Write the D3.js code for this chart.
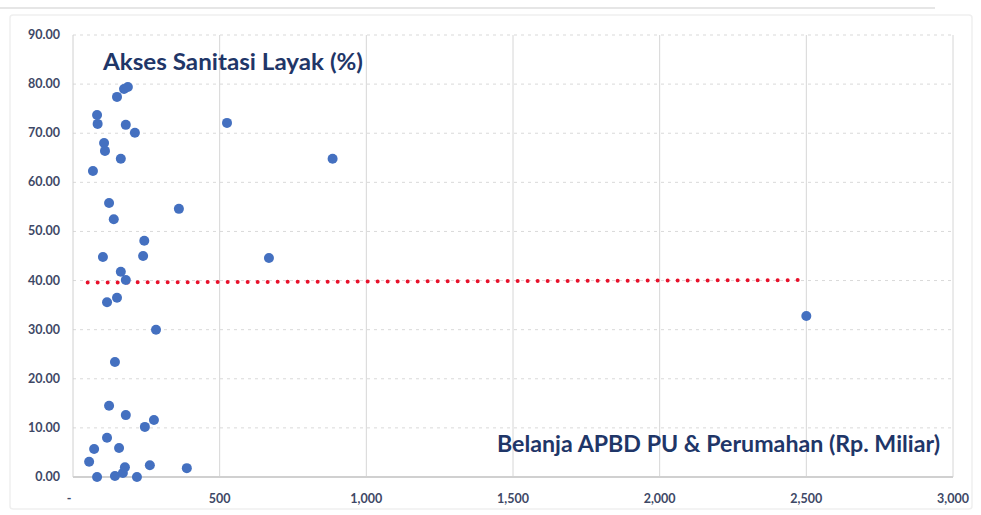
<!DOCTYPE html>
<html>
<head>
<meta charset="utf-8">
<script src="https://cdn.jsdelivr.net/npm/d3@7"></script>
<style>
  body { margin: 0; background: #fff; }
  svg { display: block; font-family: Lato, "Open Sans", sans-serif; }
</style>
</head>
<body>
<svg width="981" height="515"></svg>
<script>
// Belanja APBD PU & Perumahan (Rp. Miliar) vs Akses Sanitasi Layak (%)
var belanja = [82, 84, 150, 174, 187, 180, 211, 106, 109, 163, 68, 525, 885,
               123, 139, 361, 243, 102, 239, 668, 163, 180, 116, 150, 283,
               143, 123, 180, 276, 245, 116, 72, 157, 55, 82, 143, 170, 177,
               218, 262, 388, 2500];
var sanitasi = [73.7, 71.9, 77.4, 79.0, 79.4, 71.7, 70.1, 68.0, 66.4, 64.8, 62.3, 72.1, 64.8,
                55.8, 52.5, 54.6, 48.1, 44.8, 45.0, 44.6, 41.8, 40.1, 35.6, 36.5, 30.0,
                23.4, 14.5, 12.6, 11.6, 10.2, 8.0, 5.7, 5.9, 3.1, 0.0, 0.2, 0.8, 2.0,
                0.0, 2.4, 1.8, 32.8];
var trendX = [50, 2500];
var trendY = [39.6, 40.1];
var xTicks = [0, 500, 1000, 1500, 2000, 2500, 3000];
var yTicks = [0, 10, 20, 30, 40, 50, 60, 70, 80, 90];

var svg = d3.select("svg"),
    margin = {top: 35, right: 28, bottom: 38, left: 73},
    width = +svg.attr("width"),
    height = +svg.attr("height");

var x = d3.scaleLinear().domain([0, 3000]).range([margin.left, width - margin.right]),
    y = d3.scaleLinear().domain([0, 90]).range([height - margin.bottom, margin.top]);

// outer frame
svg.append("line")
    .attr("x1", 0).attr("x2", 935).attr("y1", 8).attr("y2", 8)
    .attr("stroke", "#e6e6e6").attr("stroke-width", 2);
svg.append("rect")
    .attr("x", 10).attr("y", 15).attr("width", 962).attr("height", 494)
    .attr("rx", 3)
    .attr("fill", "none").attr("stroke", "#efefef").attr("stroke-width", 1.5);

// grid
svg.append("g")
    .selectAll("line")
    .data(yTicks.slice(1))
    .enter().append("line")
      .attr("x1", x(0)).attr("x2", x(3000))
      .attr("y1", function(d) { return y(d); })
      .attr("y2", function(d) { return y(d); })
      .attr("stroke", "#d9d9d9")
      .attr("stroke-dasharray", "3,4");

svg.append("g")
    .selectAll("line")
    .data(xTicks.slice(1))
    .enter().append("line")
      .attr("x1", function(d) { return x(d); })
      .attr("x2", function(d) { return x(d); })
      .attr("y1", y(0)).attr("y2", y(90))
      .attr("stroke", "#d6d6d6");

// axis lines
svg.append("line")
    .attr("x1", x(0)).attr("x2", x(0)).attr("y1", y(0)).attr("y2", y(90))
    .attr("stroke", "#d0d0d0");
svg.append("line")
    .attr("x1", x(0)).attr("x2", x(3000)).attr("y1", y(0)).attr("y2", y(0))
    .attr("stroke", "#d0d0d0").attr("stroke-width", 2);

// tick labels
var fmtX = function(d) { return d === 0 ? "-" : d3.format(",")(d); };

svg.append("g")
    .selectAll("text")
    .data(xTicks)
    .enter().append("text")
      .attr("x", function(d) { return d === 0 ? x(d) - 4 : x(d); })
      .attr("y", y(0) + 26)
      .attr("text-anchor", "middle")
      .attr("font-size", 12.5)
      .attr("font-weight", "bold")
      .attr("fill", "#3e4866")
      .text(fmtX);

svg.append("g")
    .selectAll("text")
    .data(yTicks)
    .enter().append("text")
      .attr("x", 60)
      .attr("y", function(d) { return y(d) + 4; })
      .attr("text-anchor", "end")
      .attr("font-size", 12.5)
      .attr("font-weight", "bold")
      .attr("fill", "#3e4866")
      .text(function(d) { return d.toFixed(2); });

// trend line
svg.append("path")
    .datum(d3.zip(trendX, trendY))
    .attr("fill", "none")
    .attr("stroke", "#e8102a")
    .attr("stroke-width", 4)
    .attr("stroke-linecap", "round")
    .attr("stroke-dasharray", "0,10")
    .attr("d", d3.line()
        .x(function(d) { return x(d[0]); })
        .y(function(d) { return y(d[1]); }));

// points
svg.append("g")
    .selectAll("circle")
    .data(d3.zip(belanja, sanitasi))
    .enter().append("circle")
      .attr("cx", function(d) { return x(d[0]); })
      .attr("cy", function(d) { return y(d[1]); })
      .attr("r", 5)
      .attr("fill", "#4470c0");

// titles
svg.append("text")
    .attr("x", 103)
    .attr("y", 70)
    .attr("font-size", 22)
    .attr("font-weight", "bold")
    .attr("fill", "#1f3668")
    .attr("textLength", 260)
    .attr("lengthAdjust", "spacingAndGlyphs")
    .text("Akses Sanitasi Layak (%)");

svg.append("text")
    .attr("x", 940)
    .attr("y", 452)
    .attr("text-anchor", "end")
    .attr("font-size", 22)
    .attr("font-weight", "bold")
    .attr("fill", "#1f3668")
    .attr("textLength", 443)
    .attr("lengthAdjust", "spacingAndGlyphs")
    .text("Belanja APBD PU & Perumahan (Rp. Miliar)");
</script>
</body>
</html>
